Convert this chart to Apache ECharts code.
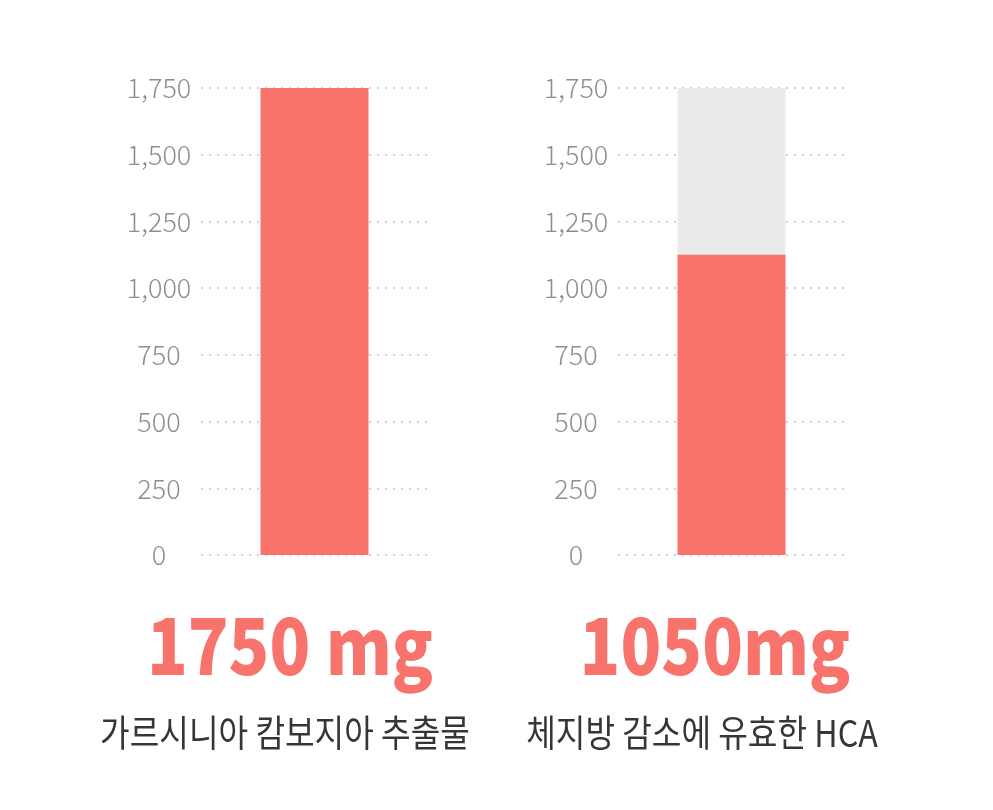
<!DOCTYPE html>
<html><head><meta charset="utf-8">
<script src="https://cdn.jsdelivr.net/npm/echarts@6/dist/echarts.min.js"></script>
<style>html,body{margin:0;padding:0;background:#fff}#c{width:993px;height:810px}</style>
</head><body><div id="c"></div>
<script>
const categories = ['가르시니아 캄보지아 추출물', '체지방 감소에 유효한 HCA'];
const values = [1750, 1125];
const capValue = 1750;
const bigLabels = ['1750 mg', '1050mg'];
const yTicks = [0, 250, 500, 750, 1000, 1250, 1500, 1750];

const RED = '#f7736c';
const chart = echarts.init(document.getElementById('c'));
const grids = [
  {left: 201, top: 88, width: 227, height: 467},
  {left: 618, top: 88, width: 227, height: 467}
];
function yAxis(i){
  return {
    type: 'value', gridIndex: i, min: yTicks[0], max: yTicks[yTicks.length-1], interval: 250,
    axisLine: {show: false}, axisTick: {show: false},
    axisLabel: {color: '#8e8e8e', fontSize: 27, fontFamily: 'Noto Sans CJK KR', fontWeight: 300,
      margin: 42, align: 'center',
      formatter: v => v.toLocaleString('en-US')},
    splitLine: {lineStyle: {type: [2, 6], color: '#c4c4c4', width: 1.5}}
  };
}
function xAxis(i){
  return {type: 'category', gridIndex: i, data: [categories[i]], show: false};
}
chart.setOption({
  animation: false,
  grid: grids,
  xAxis: [xAxis(0), xAxis(1)],
  yAxis: [yAxis(0), yAxis(1)],
  series: [
    {type: 'bar', xAxisIndex: 0, yAxisIndex: 0, data: [values[0]], barWidth: 108, itemStyle: {color: RED}},
    {type: 'bar', xAxisIndex: 1, yAxisIndex: 1, data: [capValue], barWidth: 108, itemStyle: {color: '#ebebeb'}, silent: true},
    {type: 'bar', xAxisIndex: 1, yAxisIndex: 1, data: [values[1]], barWidth: 108, barGap: '-100%', itemStyle: {color: RED}}
  ],
  graphic: [
    {type: 'text', x: 290, y: 684, scaleX: 0.86, style: {text: bigLabels[0], fill: RED, font: '900 78px "Noto Sans CJK KR"', textAlign: 'center', textVerticalAlign: 'bottom'}},
    {type: 'text', x: 715, y: 684, scaleX: 0.86, style: {text: bigLabels[1], fill: RED, font: '900 78px "Noto Sans CJK KR"', textAlign: 'center', textVerticalAlign: 'bottom'}},
    {type: 'text', x: 285, y: 733, scaleX: 0.87, style: {text: categories[0], fill: '#363636', font: '400 37px "Noto Sans CJK KR"', textAlign: 'center', textVerticalAlign: 'middle'}},
    {type: 'text', x: 702, y: 733, scaleX: 0.87, style: {text: categories[1], fill: '#363636', font: '400 37px "Noto Sans CJK KR"', textAlign: 'center', textVerticalAlign: 'middle'}}
  ]
});
</script></body></html>
